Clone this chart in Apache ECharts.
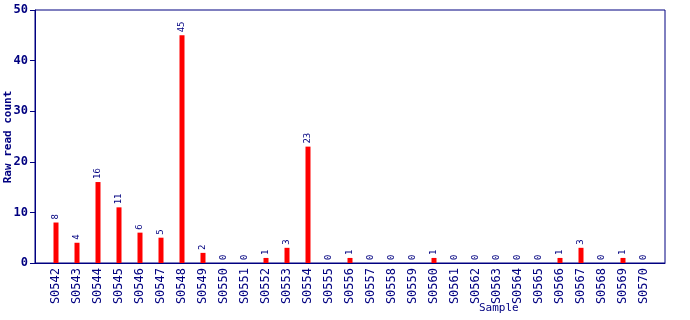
<!DOCTYPE html>
<html><head><meta charset="utf-8">
<script src="https://cdn.jsdelivr.net/npm/echarts@6/dist/echarts.min.js"></script>
<style>html,body{margin:0;padding:0;background:#fff}#c{width:690px;height:320px}</style>
</head><body><div id="c"></div>
<script>
const categories = ['S0542','S0543','S0544','S0545','S0546','S0547','S0548','S0549','S0550','S0551','S0552','S0553','S0554','S0555','S0556','S0557','S0558','S0559','S0560','S0561','S0562','S0563','S0564','S0565','S0566','S0567','S0568','S0569','S0570'];
const values = [8,4,16,11,6,5,45,2,0,0,1,3,23,0,1,0,0,0,1,0,0,0,0,0,1,3,0,1,0];
const yTicks = [0,10,20,30,40,50];
const navy = '#000080';
const font = 'DejaVu Sans Mono';
const chart = echarts.init(document.getElementById('c'));
chart.setOption({
  animation: false,
  grid: {left: 35, right: 25, top: 10, bottom: 57, show: true, borderColor: navy, borderWidth: 1, outerBoundsMode: 'none', containLabel: false},
  xAxis: {
    type: 'value', min: -1, max: categories.length, interval: 1,
    axisLine: {onZero: false, lineStyle: {color: navy}}, axisTick: {show: false}, splitLine: {show: false},
    axisLabel: {rotate: 90, color: navy, fontFamily: font, fontSize: 12, margin: 5,
      formatter: v => (v >= 0 && v < categories.length) ? categories[v] : ''}
  },
  yAxis: {
    type: 'value', min: yTicks[0], max: yTicks[yTicks.length - 1], interval: 10,
    axisLine: {show: true, onZero: false, lineStyle: {color: navy}},
    axisTick: {show: true, length: 5, lineStyle: {color: navy}},
    splitLine: {show: false},
    axisLabel: {color: navy, fontFamily: font, fontSize: 12, fontWeight: 'bold', margin: 7}
  },
  series: [{
    type: 'bar', barWidth: 5,
    data: values.map((v, i) => [i, v]),
    itemStyle: {color: '#ff0000'},
    label: {show: true, position: 'top', rotate: 90, align: 'left', verticalAlign: 'middle', distance: 3,
      color: navy, fontFamily: font, fontSize: 9, formatter: p => String(p.value[1])}
  }],
  graphic: [
    {type: 'text', left: 479, top: 303, style: {text: 'Sample', fill: navy, font: '11px "DejaVu Sans Mono"'}},
    {type: 'text', x: 8, y: 137, rotation: Math.PI / 2,
      style: {text: 'Raw read count', fill: navy, font: 'bold 11px "DejaVu Sans Mono"', align: 'center', verticalAlign: 'middle'}}
  ]
});
</script></body></html>
